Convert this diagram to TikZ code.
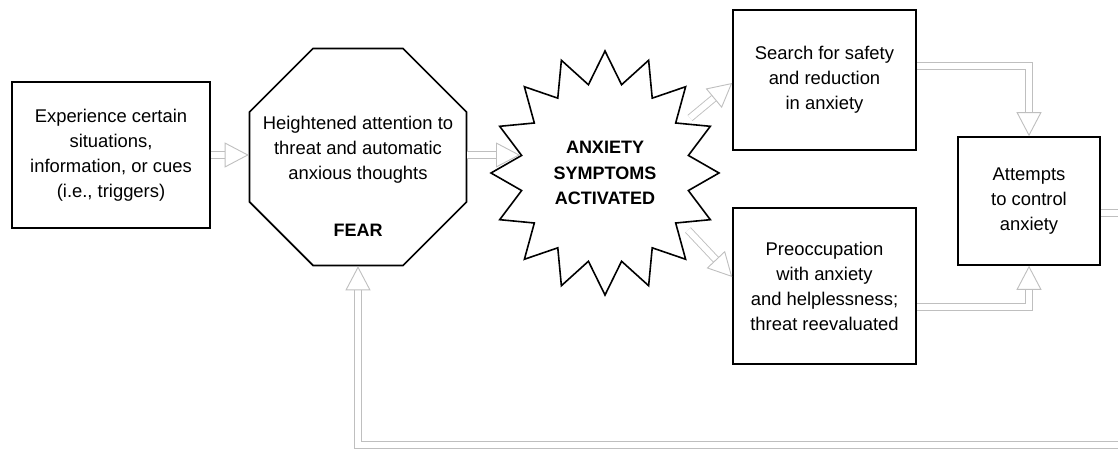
\documentclass[tikz,border=0pt]{standalone}
\usepackage{fontspec}
\setmainfont{Liberation Sans}
\usetikzlibrary{shapes.geometric,arrows.meta,calc}
\begin{document}
\begin{tikzpicture}[x=0.5pt,y=-0.5pt,
  box/.style={draw, line width=0.8pt, align=center, inner sep=0pt, font=\fontsize{9.2}{12.5}\selectfont},
  lbl/.style={align=center, inner sep=0pt, font=\fontsize{9.2}{12.5}\selectfont},
  blbl/.style={align=center, inner sep=0pt, font=\fontsize{9}{12.7}\selectfont\bfseries},
  conn/.style={draw=gray!50, line width=0.45pt, double=white, double distance=3pt,
    -{Triangle[length=12pt,width=12.5pt,fill=white,line width=0.45pt]}}
]
\useasboundingbox (0,0) rectangle (1118,453);
\clip (0,0) rectangle (1118,453);

% shapes
\node[box, minimum width=99pt, minimum height=73pt] (trig) at (111,155)
  {Experience certain\\situations,\\information, or cues\\(i.e., triggers)};
\node[draw, line width=0.8pt, regular polygon, regular polygon sides=8,
  minimum size=117.4pt, inner sep=0pt] (oct) at (358,157) {};
\node[lbl] (octtxt) at (358,150) {Heightened attention to\\threat and automatic\\anxious thoughts};
\node[blbl] (fear) at (358,230) {FEAR};

\draw[line width=0.8pt, line join=miter] (605,51)
  \foreach \a in {0,22.5,...,315} {
    -- ({605+85*cos(101.25+\a)},{173-90*sin(101.25+\a)})
    -- ({605+114*cos(112.5+\a)},{173-122*sin(112.5+\a)}) }
  -- ({605+85*cos(78.75)},{173-90*sin(78.75)}) -- cycle;
\node[blbl] (star) at (605,173) {ANXIETY\\SYMPTOMS\\ACTIVATED};

\node[box, minimum width=91.5pt, minimum height=70pt] (srch) at (824.5,80)
  {Search for safety\\and reduction\\in anxiety};
\node[box, minimum width=91.5pt, minimum height=78pt] (preo) at (824.5,286)
  {Preoccupation\\with anxiety\\and helplessness;\\threat reevaluated};
\node[box, minimum width=71pt, minimum height=64pt] (att) at (1029,201)
  {Attempts\\to control\\anxiety};

% connector end points on the star
\coordinate (starL) at (520,155);
\coordinate (starUR) at (690,118);
\coordinate (starLR) at (688,230);
\coordinate (fbR) at (1140,213);
\coordinate (fbB) at (1140,445);

% connectors
\draw[conn] (trig.east) -- (trig.east -| oct.west);
\draw[conn] (oct.east |- starL) -- (starL);
\draw[conn] (starUR) -- ([yshift=-1.5pt]srch.west);
\draw[conn] (starLR) -- ([yshift=4.5pt]preo.west);
\draw[conn] ([yshift=7pt]srch.east) -| (att.north);
\draw[conn] ([yshift=-10.5pt]preo.east) -| (att.south);
\draw[conn] ([yshift=-6pt]att.east) -- (fbR) -- (fbB) -| (oct.south);
\end{tikzpicture}
\end{document}
